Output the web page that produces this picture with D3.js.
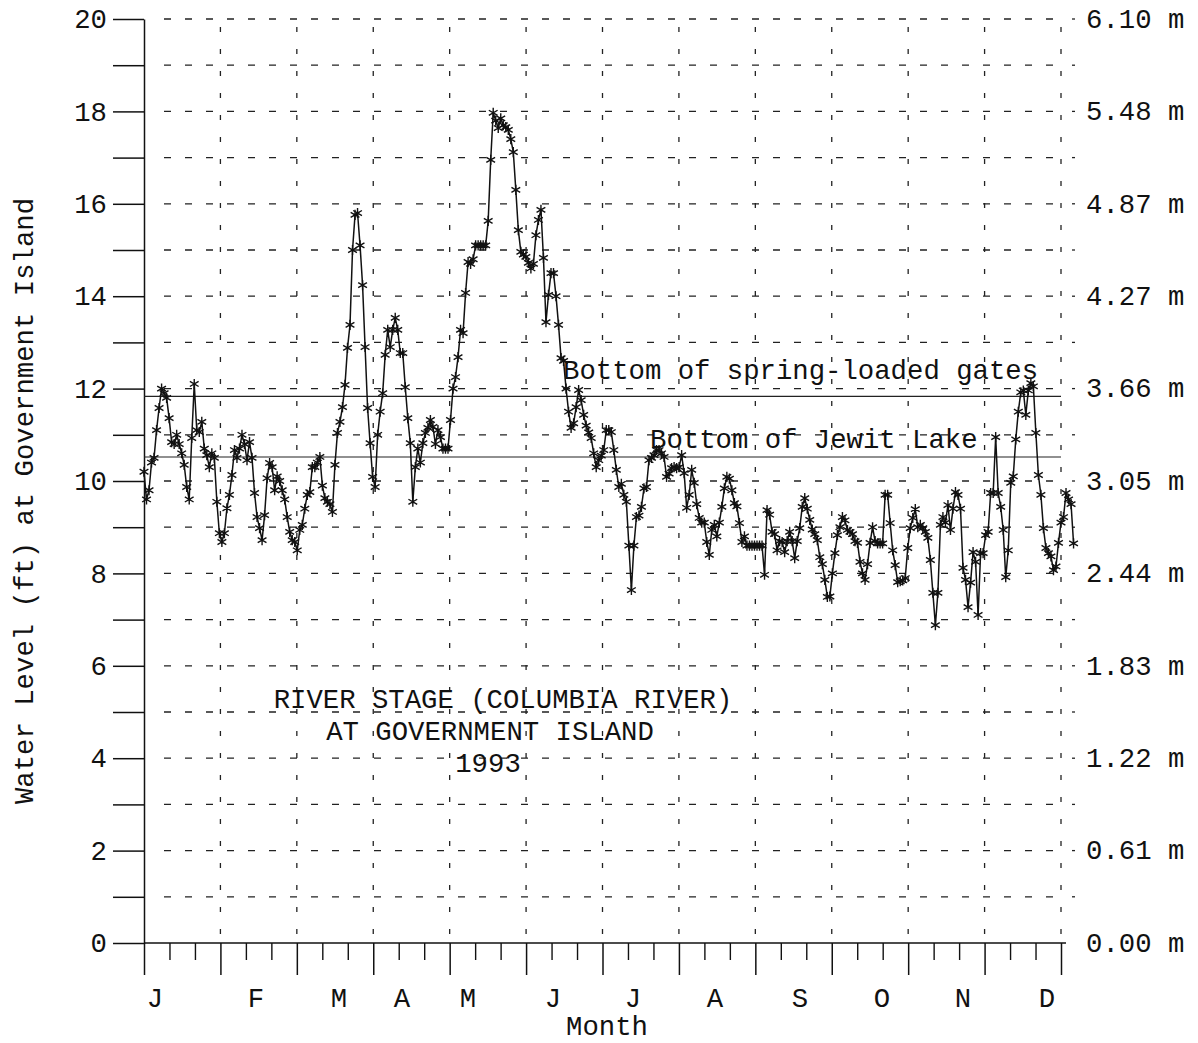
<!DOCTYPE html>
<html><head><meta charset="utf-8">
<script src="https://cdn.jsdelivr.net/npm/d3@7"></script>
<style>
body{margin:0;background:#fff}
svg{display:block}
text{font-family:"Liberation Mono","DejaVu Sans Mono",monospace;fill:#111}
</style></head><body>
<script>
// ---- data ----
const monthLabels = ["J","F","M","A","M","J","J","A","S","O","N","D"];
const monthLabelAt = [0.144,1.466,2.552,3.376,4.239,5.352,6.398,7.471,8.583,9.656,10.716,11.815];
const ftTicks = d3.range(0, 21);
const ftLabelValues = [0,2,4,6,8,10,12,14,16,18,20];
const meterLabels = ["0.00 m","0.61 m","1.22 m","1.83 m","2.44 m","3.05 m","3.66 m","4.27 m","4.87 m","5.48 m","6.10 m"];
const levelNames = ["Bottom of spring-loaded gates","Bottom of Jewit Lake"];
const levelValues = [11.83, 10.52];
const titleLines = ["RIVER STAGE (COLUMBIA RIVER)","AT GOVERNMENT ISLAND","1993"];
// daily river stage (ft), 1993
const stage = [
10.2,9.6,9.8,10.4,10.5,11.1,11.58,12.0,11.9,11.8,
11.36,10.84,10.8,11.0,10.8,10.6,10.35,9.87,9.6,10.93,
12.1,11.1,11.06,11.28,10.7,10.56,10.3,10.6,10.5,9.55,
8.87,8.68,8.87,9.41,9.7,10.13,10.67,10.5,10.7,11.0,
10.8,10.45,10.84,10.5,9.74,9.22,8.98,8.72,9.26,10.06,
10.39,10.3,9.8,10.1,10.0,9.8,9.6,9.22,8.9,8.72,
8.68,8.5,8.94,9.05,9.4,9.7,9.76,10.3,10.3,10.4,
10.52,9.9,9.63,9.55,9.5,9.33,10.35,11.04,11.28,11.6,
12.08,12.88,13.38,15.0,15.76,15.8,15.1,14.24,12.9,11.58,
10.82,10.09,9.87,11.0,11.5,11.9,12.73,13.27,12.9,13.27,
13.53,13.27,12.77,12.77,12.03,11.36,10.82,9.55,10.3,10.7,
10.4,10.82,11.04,11.15,11.32,11.17,10.8,11.1,10.95,10.7,
10.7,10.7,11.32,12.0,12.25,12.68,13.27,13.2,14.07,14.74,
14.7,14.8,15.1,15.1,15.1,15.1,15.1,15.63,16.95,17.97,
17.8,17.64,17.85,17.7,17.66,17.6,17.4,17.12,16.3,15.43,
14.96,14.9,14.85,14.72,14.6,14.7,15.32,15.65,15.87,14.83,
13.44,14.03,14.5,14.5,14.0,13.38,12.66,12.6,12.0,11.5,
11.15,11.25,11.6,11.97,11.75,11.43,11.2,11.05,10.93,10.6,
10.3,10.45,10.55,10.67,11.1,11.1,11.06,10.67,10.24,9.87,
9.94,9.7,9.55,8.6,7.64,8.6,9.22,9.25,9.44,9.84,
9.87,10.45,10.5,10.56,10.67,10.67,10.6,10.52,10.09,10.16,
10.28,10.3,10.28,10.3,10.56,10.17,9.42,9.7,10.24,9.96,
9.5,9.2,9.1,9.1,8.68,8.4,8.94,9.05,8.8,9.1,
9.44,9.84,10.09,10.05,9.8,9.52,9.45,9.09,8.68,8.8,
8.6,8.6,8.6,8.6,8.6,8.6,8.6,7.97,9.37,9.27,
8.9,8.85,8.5,8.7,8.68,8.46,8.7,8.9,8.7,8.33,
8.7,8.98,9.44,9.63,9.4,9.16,8.95,8.85,8.72,8.35,
8.2,7.86,7.49,7.5,8.0,8.44,8.83,9.0,9.22,9.15,
8.94,8.9,8.85,8.7,8.66,8.25,8.0,7.86,8.2,8.66,
9.0,8.7,8.65,8.65,8.65,9.7,9.7,9.09,8.5,8.18,
7.81,7.83,7.85,7.9,8.55,8.98,9.2,9.39,9.0,9.05,
8.98,8.9,8.77,8.29,7.58,6.88,7.58,9.05,9.22,9.1,
9.48,8.94,9.4,9.76,9.7,9.4,8.12,7.86,7.27,7.8,
8.46,8.25,7.1,8.44,8.44,8.83,8.9,9.74,9.74,10.95,
9.74,9.44,8.94,7.92,8.5,9.96,10.1,10.9,11.5,11.92,
11.96,11.43,11.96,12.12,12.05,11.04,10.13,9.7,8.98,8.55,
8.44,8.37,8.07,8.15,8.66,9.1,9.22,9.74,9.6,9.5,
8.65
];

// ---- chart ----
const W = 1198, H = 1043;
const svg = d3.select("body").append("svg").attr("width", W).attr("height", H);
const FS = 27.3;
const ink = "#111";

const x = d3.scaleLinear().domain([0, 12]).range([144, 1061]);
const xDay = d3.scaleLinear().domain([0, 365]).range([144, 1061]);
const y = d3.scaleLinear().domain([0, 20]).range([943, 19]);

// grid
const grid = svg.append("g").attr("stroke", "#222").attr("stroke-width", 1.3);
grid.selectAll("line.h").data(ftTicks.filter(d => d > 0)).join("line")
  .attr("x1", 164).attr("x2", x(12)).attr("y1", d => y(d)).attr("y2", d => y(d))
  .attr("stroke-dasharray", "7,14");
grid.selectAll("line.v").data(d3.range(1, 13)).join("line")
  .attr("x1", d => x(d)).attr("x2", d => x(d)).attr("y1", y(20)).attr("y2", y(0))
  .attr("stroke-dasharray", "5,17").attr("stroke-dashoffset", -8);
// right-side small ticks
grid.selectAll("line.r").data(ftTicks.filter(d => d > 0)).join("line")
  .attr("x1", x(12) + 11).attr("x2", x(12) + 14).attr("y1", d => y(d)).attr("y2", d => y(d));

// left axis
const yAxis = d3.axisLeft(y).tickValues(ftTicks).tickSize(31).tickSizeOuter(0).tickPadding(6)
  .tickFormat(d => ftLabelValues.includes(d) ? d : "");
const gy = svg.append("g").attr("transform", "translate(144,0)").call(yAxis);
gy.attr("font-family", null).attr("font-size", null);
gy.selectAll("path,line").attr("stroke", ink).attr("stroke-width", 1.5);
gy.selectAll("text").attr("font-size", FS).attr("fill", ink);

// bottom axis (major + minor)
const xAxis = d3.axisBottom(x).tickValues(d3.range(0, 13)).tickSize(32).tickSizeOuter(0).tickFormat("");
const gx = svg.append("g").attr("transform", `translate(0,${y(0)})`).call(xAxis);
gx.selectAll("path,line").attr("stroke", ink).attr("stroke-width", 1.5);
gx.select(".domain").attr("d", `M${x(0)},0H${x(12) + 5}`);
const minor = d3.range(0, 12).flatMap(m => [m + 1/3, m + 2/3]);
const gxm = svg.append("g").attr("transform", `translate(0,${y(0)})`)
  .call(d3.axisBottom(x).tickValues(minor).tickSize(17).tickFormat(""));
gxm.select(".domain").remove();
gxm.selectAll("line").attr("stroke", ink).attr("stroke-width", 1.4);

svg.append("g").selectAll("text").data(monthLabels).join("text")
  .attr("x", (d, i) => x(monthLabelAt[i])).attr("y", 1007)
  .attr("text-anchor", "middle").attr("font-size", FS).text(d => d);
svg.append("text").attr("x", 607).attr("y", 1035).attr("text-anchor", "middle")
  .attr("font-size", FS).text("Month");

// right labels
svg.append("g").selectAll("text").data(meterLabels).join("text")
  .attr("x", x(12) + 25).attr("y", (d, i) => y(ftLabelValues[i])).attr("dy", "0.32em")
  .attr("font-size", FS).text(d => d);

// y title
svg.append("text").attr("transform", `translate(33,${(y(0) + y(20)) / 2 + 20}) rotate(-90)`)
  .attr("text-anchor", "middle").attr("font-size", FS)
  .text("Water Level (ft) at Government Island");

// reference levels
svg.append("g").selectAll("line").data(levelValues).join("line")
  .attr("x1", x(0)).attr("x2", x(12)).attr("y1", d => y(d)).attr("y2", d => y(d))
  .attr("stroke", "#222").attr("stroke-width", 1.2);
const levelLabelX = [563, 650];
const levelLabelDy = [-17, -9];
svg.append("g").selectAll("text").data(levelNames).join("text")
  .attr("x", (d, i) => levelLabelX[i]).attr("y", (d, i) => y(levelValues[i]) + levelLabelDy[i])
  .attr("font-size", FS).text(d => d);

// title block
const titleCx = [503, 490, 488];
svg.append("g").selectAll("text").data(titleLines).join("text")
  .attr("x", (d, i) => titleCx[i]).attr("y", (d, i) => 708 + i * 32)
  .attr("text-anchor", "middle").attr("font-size", FS).text(d => d);

// series
const line = d3.line().x((d, i) => xDay(i)).y(d => y(d));
svg.append("path").datum(stage).attr("d", line)
  .attr("fill", "none").attr("stroke", ink).attr("stroke-width", 1.5);
const sym = d3.symbol(d3.symbolAsterisk, 72);
svg.append("g").selectAll("path").data(stage).join("path")
  .attr("transform", (d, i) => `translate(${xDay(i)},${y(d)})`)
  .attr("d", sym).attr("fill", "none").attr("stroke", ink).attr("stroke-width", 1.4);
</script>
</body></html>
